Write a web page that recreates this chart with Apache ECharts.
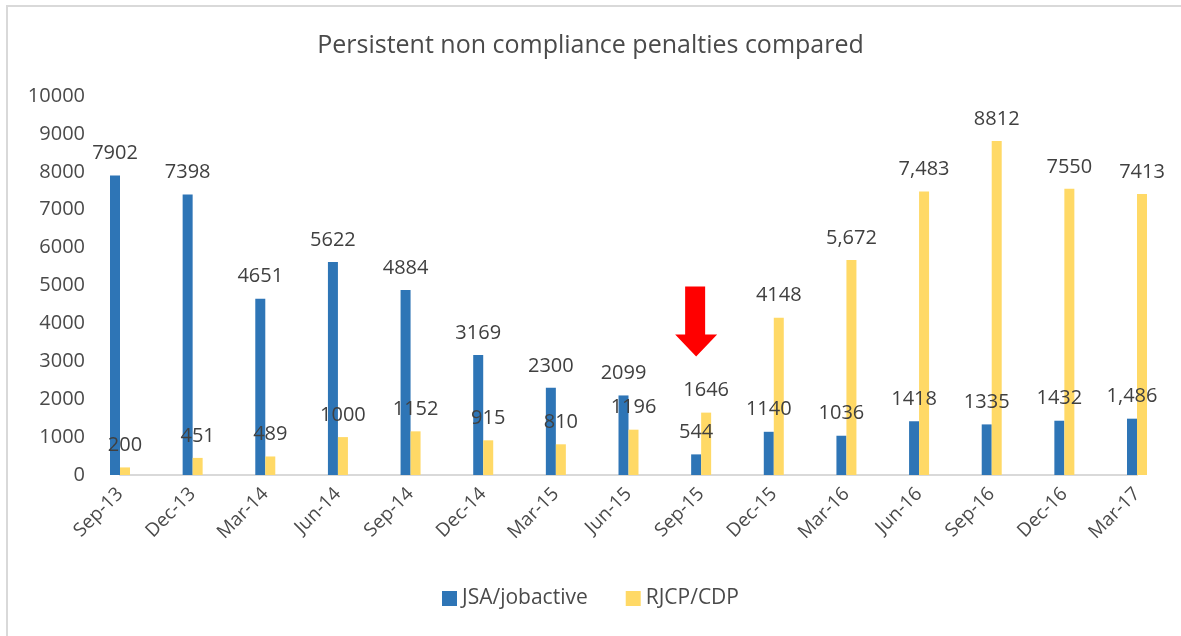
<!DOCTYPE html>
<html lang="en">
<head>
    <meta charset="UTF-8">
    <title>Persistent non compliance penalties compared</title>
    <script src="https://cdn.jsdelivr.net/npm/echarts@6/dist/echarts.min.js"></script>
    <style>
        html, body { margin: 0; padding: 0; background: #fff; overflow: hidden; }
        #frame {
            position: absolute; left: 6px; top: 5px;
            width: 1300px; height: 800px;
            border-left: 2px solid #d9d9d9; border-top: 2px solid #d9d9d9;
        }
        #main { position: absolute; left: 0; top: 0; width: 1181px; height: 636px; }
    </style>
</head>
<body>
<div id="frame"></div>
<div id="main"></div>

<script type="text/javascript">
    // quarters on the x axis
    var quarters = ['Sep-13', 'Dec-13', 'Mar-14', 'Jun-14', 'Sep-14', 'Dec-14', 'Mar-15', 'Jun-15',
                    'Sep-15', 'Dec-15', 'Mar-16', 'Jun-16', 'Sep-16', 'Dec-16', 'Mar-17'];
    var jsaValues  = [7902, 7398, 4651, 5622, 4884, 3169, 2300, 2099, 544, 1140, 1036, 1418, 1335, 1432, 1486];
    var rjcpValues = [200, 451, 489, 1000, 1152, 915, 810, 1196, 1646, 4148, 5672, 7483, 8812, 7550, 7413];
    // labels as printed on the chart (some with thousands separator)
    var jsaLabels  = ['7902', '7398', '4651', '5622', '4884', '3169', '2300', '2099', '544', '1140', '1036', '1418', '1335', '1432', '1,486'];
    var rjcpLabels = ['200', '451', '489', '1000', '1152', '915', '810', '1196', '1646', '4148', '5,672', '7,483', '8812', '7550', '7413'];
    var yTicks = [0, 1000, 2000, 3000, 4000, 5000, 6000, 7000, 8000, 9000, 10000];

    var textColor = '#4a4a4a';
    var labelColor = '#404040';

    var chart = echarts.init(document.getElementById('main'));

    chart.setOption({
        animation: false,
        title: {
            text: 'Persistent non compliance penalties compared',
            left: 'center',
            top: 28,
            textStyle: { fontFamily: 'Open Sans', fontSize: 25, fontWeight: 'normal', color: textColor }
        },
        legend: {
            bottom: 22,
            left: 'center',
            itemWidth: 15,
            itemHeight: 15,
            itemGap: 38,
            icon: 'rect',
            textStyle: { fontFamily: 'Open Sans', fontSize: 21, color: textColor },
            data: ['JSA/jobactive', 'RJCP/CDP']
        },
        grid: { left: 120, right: 44, top: 96, bottom: 161 },
        xAxis: {
            type: 'category',
            data: quarters,
            boundaryGap: false,
            axisLine: { lineStyle: { color: '#d9d9d9', width: 2 } },
            axisTick: { show: false },
            axisLabel: {
                rotate: 45,
                margin: 16,
                fontFamily: 'Open Sans',
                fontSize: 19,
                color: textColor
            }
        },
        yAxis: {
            type: 'value',
            min: yTicks[0],
            max: yTicks[yTicks.length - 1],
            interval: 1000,
            splitLine: { show: false },
            axisLine: { show: false },
            axisTick: { show: false },
            axisLabel: {
                margin: 35,
                formatter: function (v) { return String(v); },
                fontFamily: 'Open Sans',
                fontSize: 20,
                color: textColor
            }
        },
        series: [{
            name: 'JSA/jobactive',
            type: 'bar',
            clip: false,
            barWidth: 10,
            barGap: '0%',
            itemStyle: { color: '#2e75b6' },
            data: jsaValues.map(function (v, i) {
                return { value: v, label: { formatter: jsaLabels[i] } };
            }),
            label: {
                show: true,
                position: 'top',
                distance: 12,
                fontFamily: 'Open Sans',
                fontSize: 20,
                color: labelColor
            },
            markPoint: {
                silent: true,
                data: [{
                    coord: ['Sep-15', 4050],
                    symbol: 'path://M10,0 L30,0 L30,48 L42,48 L21,70 L0,48 L10,48 Z',
                    symbolSize: [42, 70],
                    itemStyle: { color: '#ff0000' },
                    label: { show: false }
                }]
            }
        }, {
            name: 'RJCP/CDP',
            type: 'bar',
            clip: false,
            barWidth: 10,
            itemStyle: { color: '#ffd966' },
            data: rjcpValues.map(function (v, i) {
                return { value: v, label: { formatter: rjcpLabels[i] } };
            }),
            label: {
                show: true,
                position: 'top',
                distance: 12,
                fontFamily: 'Open Sans',
                fontSize: 20,
                color: labelColor
            }
        }]
    });
</script>
</body>
</html>
